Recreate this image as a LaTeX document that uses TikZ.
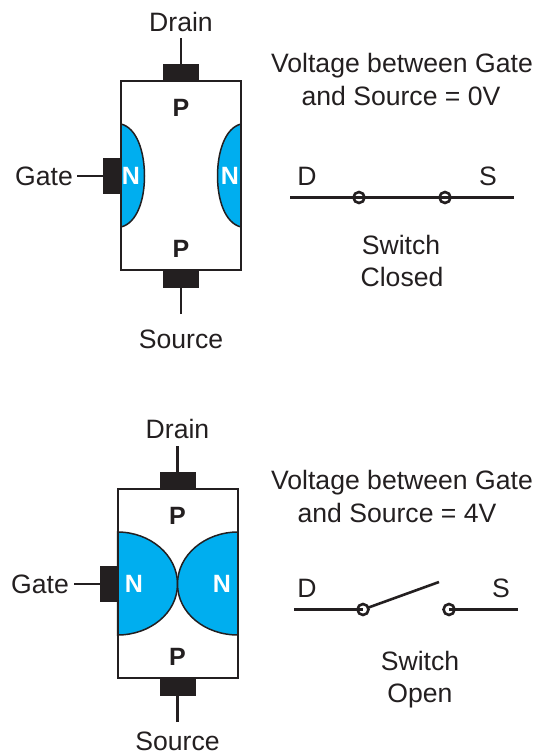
\documentclass[tikz,border=0pt]{standalone}
\usepackage{fontspec}
\setmainfont{Liberation Sans}
\definecolor{inkblack}{HTML}{231F20}
\definecolor{channelblue}{HTML}{00AEEF}
\begin{document}
\begin{tikzpicture}[x=1pt, y=-1pt, inkblack,
    every node/.style={inner sep=0pt, outer sep=0pt, text=inkblack, font=\fontsize{26.6}{30}\selectfont},
    caption/.style={anchor=base},
    body/.style={draw=inkblack, line width=1.7pt, minimum width=120pt, minimum height=189pt},
    padh/.style={fill=inkblack, minimum width=36pt, minimum height=18pt},
    padv/.style={fill=inkblack, minimum width=18pt, minimum height=36pt},
    lead/.style={line width=2.6pt},
    channel/.style={fill=channelblue, draw=inkblack, line width=1.5pt},
    doped/.style={font=\fontsize{25}{30}\selectfont\bfseries},
    dopedn/.style={text=white, font=\fontsize{25}{30}\selectfont\bfseries},
    contact/.style={circle, draw=inkblack, line width=2.6pt, minimum size=11pt}]
    \useasboundingbox (0,0) rectangle (541,755);

    % Upper device
    \filldraw[channel] (121,124) .. controls (137,128) and (144.5,152) .. (144.5,176) .. controls (144.5,200) and (137,223) .. (121,227) -- cycle;
    \filldraw[channel] (241,124) .. controls (225,128) and (217.5,152) .. (217.5,176) .. controls (217.5,200) and (225,223) .. (241,227) -- cycle;
    \node[body] (body1) at (181,175.5) {};
    \node[padh] (drainpad1) at (181,72.5) {};
    \node[padh] (sourcepad1) at (181,279) {};
    \node[padv] (gatepad1) at (112,176) {};
    \node (drain1) at (181,22) {Drain};
    \node (source1) at (181,339) {Source};
    \node (gate1) at (44,176) {Gate};
    \node[doped] at (181,108) (ptop1) {P};
    \node[doped] at (181,249) (pbot1) {P};
    \node[dopedn] at (131,176) (nleft1) {N};
    \node[dopedn] at (230,176) (nright1) {N};
    \coordinate (drainend1) at (181,38);
    \coordinate (sourceend1) at (181,314);
    \coordinate (gateend1) at (77,176);
    \draw[lead] (drainend1) -- (drainpad1);
    \draw[lead] (sourceend1) -- (sourcepad1);
    \draw[lead] (gateend1) -- (gatepad1);

    % Upper switch
    \node[caption] (title1a) at (402,72.5) {Voltage between Gate};
    \node[caption] (title1b) at (401,105) {and Source = 0V};
    \node (d1) at (307,176) {D};
    \node (s1) at (488,176) {S};
    \node[contact] (cd1) at (359,197.5) {};
    \node[contact] (cs1) at (445,197.5) {};
    \coordinate (dend1) at (290,197.5);
    \coordinate (send1) at (514,197.5);
    \draw[lead] (dend1) -- (cd1.center) -- (cs1.center) -- (send1);
    \node[caption] (state1a) at (401,254) {Switch};
    \node[caption] (state1b) at (402,286) {Closed};

    % Lower device
    \filldraw[channel] (117.5,532) .. controls (150,532) and (177.5,555) .. (177.5,584) .. controls (177.5,613) and (150,635) .. (117.5,635) -- cycle;
    \filldraw[channel] (238,532) .. controls (205,532) and (177.5,555) .. (177.5,584) .. controls (177.5,613) and (205,635) .. (238,635) -- cycle;
    \node[body] (body2) at (177.75,583.5) {};
    \node[padh] (drainpad2) at (177.5,480.5) {};
    \node[padh] (sourcepad2) at (177.5,687) {};
    \node[padv] (gatepad2) at (108.5,584) {};
    \node (drain2) at (177.5,429) {Drain};
    \node (source2) at (177.5,741) {Source};
    \node (gate2) at (40,584) {Gate};
    \node[doped] at (177.5,516) (ptop2) {P};
    \node[doped] at (177.5,657) (pbot2) {P};
    \node[dopedn] at (134,584) (nleft2) {N};
    \node[dopedn] at (222,584) (nright2) {N};
    \coordinate (drainend2) at (177.5,446);
    \coordinate (sourceend2) at (177.5,722);
    \coordinate (gateend2) at (74,584);
    \draw[lead] (drainend2) -- (drainpad2);
    \draw[lead] (sourceend2) -- (sourcepad2);
    \draw[lead] (gateend2) -- (gatepad2);

    % Lower switch
    \node[caption] (title2a) at (402,489.5) {Voltage between Gate};
    \node[caption] (title2b) at (397,522) {and Source = 4V};
    \node (d2) at (307,588) {D};
    \node (s2) at (501,588) {S};
    \node[contact] (cd2) at (363,609.5) {};
    \node[contact] (cs2) at (449,609.5) {};
    \coordinate (dend2) at (294,609.5);
    \coordinate (send2) at (518,609.5);
    \coordinate (blade2) at (439,582);
    \draw[lead] (dend2) -- (cd2.center);
    \draw[lead] (cs2.center) -- (send2);
    \draw[lead] (cd2) -- (blade2);
    \node[caption] (state2a) at (420,670) {Switch};
    \node[caption] (state2b) at (420,702) {Open};
\end{tikzpicture}
\end{document}
